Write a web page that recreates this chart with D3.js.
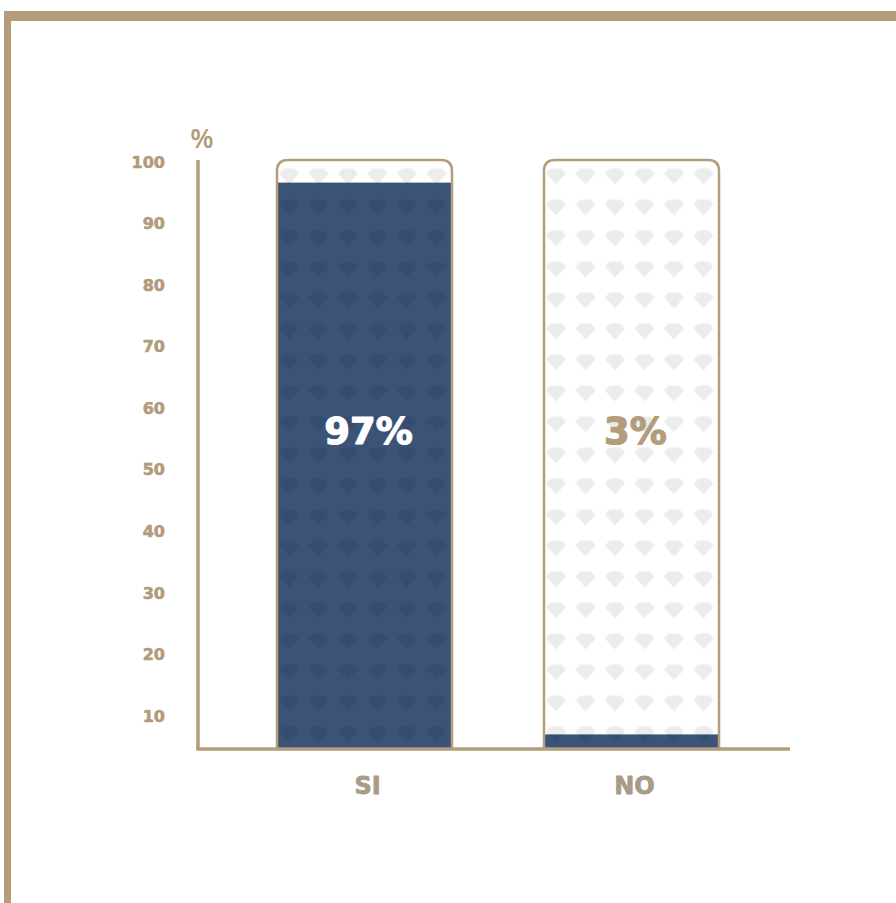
<!DOCTYPE html>
<html>
<head>
<meta charset="utf-8">
<script src="https://cdn.jsdelivr.net/npm/d3@7"></script>
<style>
  html, body { margin: 0; padding: 0; background: #ffffff; }
  svg { display: block; }
  text { font-family: "DejaVu Sans", "Open Sans", sans-serif; }
</style>
</head>
<body>
<svg id="chart" width="896" height="903"></svg>
<script>
// ---- data ----
const categories = ["SI", "NO"];
const values = [97, 3];
const valueLabels = ["97%", "3%"];
const tickValues = [10, 20, 30, 40, 50, 60, 70, 80, 90, 100];
const axisUnit = "%";

// ---- styles ----
const gold = "#b39d7c";
const tickColor = "#b19b7a";
const catColor = "#a89b87";
const barBlue = "#3a5376";
const barBlueDark = "#354d70";
const diamondLight = "#ececec";

const svg = d3.select("#chart");
const defs = svg.append("defs");

// frame
svg.append("rect").attr("x", 4).attr("y", 11).attr("width", 892).attr("height", 10).attr("fill", gold);
svg.append("rect").attr("x", 4).attr("y", 11).attr("width", 7).attr("height", 892).attr("fill", gold);

// scales
const x = d3.scaleBand().domain(categories).range([277, 719]).paddingInner(0.3446).paddingOuter(0);
const yTicks = d3.scaleLinear().domain([0, 100]).range([777.6, 162]);
const yBar = d3.scaleLinear().domain([0, 100]).range([752, 165]);
const baseY = 748;
const trackTop = 160;

// diamond (gem) shape
const gem = "M-6,-7 Q0,-8.5 6,-7 L10,-2.5 Q5,3 0,8.5 Q-5,3 -10,-2.5 Z";

function makePattern(id, offX, bg, fg) {
  const p = defs.append("pattern").attr("id", id)
    .attr("patternUnits", "userSpaceOnUse")
    .attr("x", offX - 14.75).attr("y", 176 - 15.5)
    .attr("width", 29.5).attr("height", 31);
  p.append("rect").attr("width", 29.5).attr("height", 31).attr("fill", bg);
  p.append("path").attr("d", gem).attr("transform", "translate(14.75,15.5)").attr("fill", fg);
}

categories.forEach((c, i) => {
  makePattern("light" + i, x(c) + 12, "#ffffff", diamondLight);
  makePattern("dark" + i, x(c) + 12, barBlue, barBlueDark);
});

function roundedTop(x0, y0, w, h, r) {
  return `M${x0},${y0 + h} L${x0},${y0 + r} Q${x0},${y0} ${x0 + r},${y0} L${x0 + w - r},${y0} Q${x0 + w},${y0} ${x0 + w},${y0 + r} L${x0 + w},${y0 + h}`;
}

const bars = svg.append("g");
categories.forEach((c, i) => {
  const bx = x(c), bw = x.bandwidth();
  bars.append("path")
    .attr("d", roundedTop(bx, trackTop, bw, baseY - trackTop, 11) + " Z")
    .attr("fill", `url(#light${i})`);
  const top = Math.min(yBar(values[i]), baseY);
  bars.append("rect")
    .attr("x", bx).attr("y", top)
    .attr("width", bw).attr("height", baseY - top)
    .attr("fill", `url(#dark${i})`);
  bars.append("path")
    .attr("d", roundedTop(bx, trackTop, bw, baseY - trackTop, 11))
    .attr("fill", "none").attr("stroke", gold).attr("stroke-width", 2.5);
});

// value labels
categories.forEach((c, i) => {
  const col = i === 0 ? "#ffffff" : gold;
  svg.append("text")
    .attr("x", x(c) + x.bandwidth() / 2 + 4)
    .attr("y", 444)
    .attr("text-anchor", "middle")
    .attr("font-size", 37).attr("font-weight", 700)
    .attr("fill", col).attr("stroke", col).attr("stroke-width", 1.2)
    .attr("stroke-linejoin", "round")
    .text(valueLabels[i]);
});

// axis lines
svg.append("line").attr("x1", 198).attr("x2", 198).attr("y1", trackTop).attr("y2", 750)
  .attr("stroke", gold).attr("stroke-width", 3.5);
svg.append("line").attr("x1", 196.5).attr("x2", 790).attr("y1", 749).attr("y2", 749)
  .attr("stroke", gold).attr("stroke-width", 3.5);

// tick labels
const yAxis = d3.axisLeft(yTicks).tickValues(tickValues).tickSize(0).tickPadding(0);
const gy = svg.append("g").attr("transform", "translate(165,0)").call(yAxis);
gy.select(".domain").remove();
gy.selectAll("text")
  .attr("fill", tickColor).attr("font-size", 16).attr("font-weight", 700)
  .attr("stroke", tickColor).attr("stroke-width", 0.6).attr("stroke-linejoin", "round")
  .style("font-family", '"DejaVu Sans", sans-serif');

// unit label
svg.append("text").attr("x", 202).attr("y", 148).attr("text-anchor", "middle")
  .style("font-family", '"Open Sans", sans-serif')
  .attr("font-size", 27).attr("font-weight", 600).attr("fill", tickColor).text(axisUnit);

// category labels
const xAxis = d3.axisBottom(x).tickSize(0).tickPadding(0);
const gx = svg.append("g").attr("transform", "translate(3,777)").call(xAxis);
gx.select(".domain").remove();
gx.selectAll("text")
  .attr("fill", catColor).attr("font-size", 24).attr("font-weight", 700)
  .attr("stroke", catColor).attr("stroke-width", 0.8).attr("stroke-linejoin", "round")
  .style("font-family", '"DejaVu Sans", sans-serif');
</script>
</body>
</html>
